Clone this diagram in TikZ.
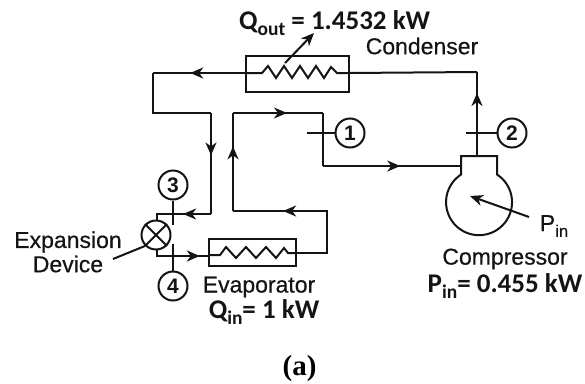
\documentclass[tikz,border=0pt]{standalone}
\usepackage{fontspec}
\setmainfont{Liberation Sans}
\newfontfamily\namefont[FakeBold=0.5]{Liberation Sans}
\newfontfamily\serifbold{Liberation Serif}
\newfontfamily\numfont{Carlito}
\usetikzlibrary{arrows.meta,decorations.markings}
\definecolor{ink}{gray}{0.08}
\newcommand{\lowtxt}[1]{\raisebox{-0.25em}{\scalebox{0.72}{#1}}}
\tikzset{
  x=1pt,y=-1pt,
  pipe/.style={draw=ink,line width=2pt,line join=miter},
  tip/.style={-{Stealth[length=13pt,width=11pt,inset=4pt]}},
  flowmark/.style={pipe,postaction={decorate},decoration={markings,mark=at position #1 with {\arrow{Stealth[length=13pt,width=11pt,inset=4pt]}}}},
  equip/.style={draw=ink,line width=2pt,fill=white,inner sep=0},
  state/.style={circle,draw=ink,line width=2pt,fill=white,minimum size=29pt,inner sep=0,font=\fontsize{21}{21}\selectfont\bfseries,text=ink},
  lab/.style={font=\fontsize{23}{23}\selectfont\namefont,text=ink,inner sep=0,anchor=center},
  numlab/.style={font=\fontsize{27}{27}\selectfont\numfont\bfseries,text=ink,inner sep=0,anchor=center},
}
\begin{document}
\begin{tikzpicture}
\useasboundingbox[fill=white] (0,0) rectangle (585,383);
% anchor coordinates
\coordinate (cl) at (246,73); \coordinate (cr) at (349,73);
\coordinate (a1) at (153,73); \coordinate (a2) at (153,113); \coordinate (a3) at (211,113);
\coordinate (a4) at (211,214); \coordinate (a5) at (157,214);
\coordinate (b1) at (157,256);
\coordinate (er) at (296,253);
\coordinate (d1) at (327,253); \coordinate (d2) at (327,211); \coordinate (d3) at (233,211);
\coordinate (d4) at (233,113); \coordinate (d5) at (323,113); \coordinate (d6) at (323,166);
\coordinate (hl) at (461,166); \coordinate (ht) at (477,156);
\coordinate (t1) at (477,72);
% pipes
\draw[flowmark=0.6] (cl) -- (a1);
\draw[pipe] (a1) -- (a2) -- (a3);
\draw[flowmark=0.42] (a3) -- (a4);
\draw[flowmark=0.45] (a4) -- (a5) -- (157,222);
\draw[flowmark=0.83] (157,249) -- (b1) -- (210,256);
\draw[flowmark=0.70] (er) -- (d1) -- (d2) -- (d3);
\draw[flowmark=0.66] (d3) -- (d4);
\draw[flowmark=0.6] (d4) -- (d5);
\draw[pipe] (d5) -- (d6);
\draw[flowmark=0.56] (d6) -- (hl);
\draw[flowmark=0.75] (ht) -- (t1);
\draw[pipe] (t1) -- (cr);
% condenser
\node[equip,minimum width=103pt,minimum height=36pt] (cond) at (297.5,74) {};
\draw[pipe] (246,73) -- (262,73) -- (268,66) -- (276,78) -- (284,66) -- (292,78) -- (300,66) -- (308,78) -- (316,66) -- (324,78) -- (331,67) -- (337,73) -- (349,73);
% evaporator
\node[equip,minimum width=87pt,minimum height=27pt] (evap) at (252.5,252.5) {};
\draw[pipe] (209,255) -- (220,255) -- (226,247) -- (236,258) -- (246,247) -- (256,258) -- (266,247) -- (276,258) -- (284,248) -- (288,253) -- (296,253);
% Qout arrow
\coordinate (qs) at (285,63); \coordinate (qe) at (314,33);
\draw[pipe,tip] (qs) -- (qe);
% valve
\node[equip,circle,minimum size=29pt] (valve) at (156,235) {};
\draw[pipe] (valve.north west) -- (valve.south east) (valve.north east) -- (valve.south west);
\coordinate (ex) at (113,259);
\draw[pipe] (ex) -- (valve.south west);
% compressor
\draw[pipe,fill=white] (461,156) -- (497,156) -- (497,174.5)
  arc[start angle=57,end angle=-237,radius=33pt] -- cycle;
\coordinate (ps) at (529,217); \coordinate (pe) at (470,196);
\draw[pipe,tip] (ps) -- (pe);
% state points
\node[state] (s1) at (350,133) {1};
\node[state] (s2) at (512,133) {2};
\node[state] (s3) at (173,185) {3};
\node[state] (s4) at (173,286) {4};
\coordinate (k1) at (307,133); \coordinate (k2) at (466,133);
\coordinate (k3) at (173,225); \coordinate (k4) at (173,244);
\draw[pipe] (k1) -- (s1); \draw[pipe] (k2) -- (s2);
\draw[pipe] (s3) -- (k3); \draw[pipe] (s4) -- (k4);
% labels
\node[numlab,anchor=west] (qo) at (239,23) {Q\lowtxt{out} = 1.4532 kW};
\node[lab] (cn) at (422,46) {Condenser};
\node[lab] (ex1) at (68,242) {Expansion};
\node[lab] (ex2) at (68,264) {Device};
\node[lab] (ev) at (259,287) {Evaporator};
\node[numlab] (qi) at (264,312) {Q\lowtxt{in}= 1 kW};
\node[lab] (pi) at (554,226) {P\lowtxt{in}};
\node[lab] (cp) at (505,259) {Compressor};
\node[numlab] (pv) at (505,286) {P\lowtxt{in}= 0.455 kW};
\node[font=\fontsize{29}{29}\selectfont\serifbold\bfseries,text=black,inner sep=0] (cap) at (299.5,369) {(a)};
\end{tikzpicture}
\end{document}
